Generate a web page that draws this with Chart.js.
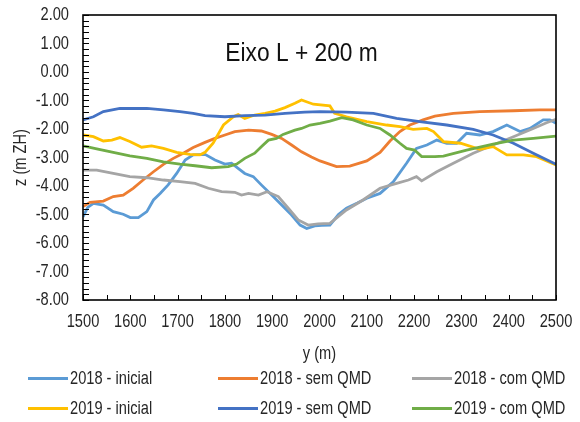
<!DOCTYPE html>
<html>
<head>
<meta charset="utf-8">
<script src="https://cdn.jsdelivr.net/npm/chart.js@4.4.1/dist/chart.umd.min.js"></script>
<style>
  html, body { margin: 0; padding: 0; background: #fff; }
  #wrap { position: relative; width: 580px; height: 422px; overflow: hidden; }
  #chart { position: absolute; left: 0; top: 0; }
  #legend { position: absolute; left: 0; top: 0; width: 580px; height: 422px; pointer-events: none;
            font-family: "Liberation Sans", Arial, sans-serif; font-size: 19px; color: #262626; }
  .item { position: absolute; display: flex; align-items: center; white-space: nowrap; height: 24px; line-height: 24px; }
  .swatch { display: inline-block; flex: none; width: 40px; height: 3px; margin-right: 2px; }
  .name { display: inline-block; transform: scaleX(0.77); transform-origin: 0 50%; }
</style>
</head>
<body>
<div id="wrap">
  <canvas id="chart" width="580" height="422"></canvas>
  <div id="legend"></div>
</div>
<script>
// Seabed profile along "Eixo L + 200 m": chainage y (m) vs bed level z (m ZH)

const seriesNames = ["2018 - inicial", "2018 - sem QMD", "2018 - com QMD",
                     "2019 - inicial", "2019 - sem QMD", "2019 - com QMD"];
const seriesColors = ["#5B9BD5", "#ED7D31", "#A5A5A5", "#FFC000", "#4472C4", "#70AD47"];

const xTicks = [1500, 1600, 1700, 1800, 1900, 2000, 2100, 2200, 2300, 2400, 2500];
const zTicks = [-8, -7, -6, -5, -4, -3, -2, -1, 0, 1, 2];

// 2018 - inicial
const y2018Inicial = [1500, 1510, 1522, 1543, 1564, 1585, 1600, 1617, 1635, 1649, 1663, 1680, 1698, 1716, 1733, 1758,
  1779, 1800, 1814, 1828, 1842, 1860, 1877, 1899, 1920, 1941, 1959, 1973, 1990, 2005, 2022, 2040, 2057, 2080, 2100,
  2128, 2156, 2184, 2205, 2227, 2248, 2269, 2290, 2311, 2339, 2367, 2396, 2424, 2445, 2473, 2487, 2500];
const z2018Inicial = [-5.08, -4.75, -4.61, -4.67, -4.90, -4.99, -5.11, -5.11, -4.90, -4.49, -4.26, -3.96, -3.56, -3.09, -2.91, -2.89,
  -3.09, -3.23, -3.20, -3.38, -3.56, -3.67, -3.96, -4.32, -4.67, -5.02, -5.37, -5.49, -5.40, -5.38, -5.37, -5.00, -4.78, -4.60, -4.43,
  -4.26, -3.85, -3.20, -2.68, -2.56, -2.39, -2.50, -2.50, -2.15, -2.21, -2.09, -1.86, -2.09, -1.98, -1.68, -1.68, -1.80];

// 2018 - sem QMD
const y2018Sem = [1500, 1515, 1543, 1564, 1585, 1606, 1627, 1649, 1670, 1691, 1712, 1733, 1758, 1779, 1800, 1821, 1850,
  1877, 1899, 1920, 1941, 1962, 1983, 2001, 2036, 2064, 2100, 2128, 2149, 2170, 2191, 2219, 2244, 2283, 2339, 2410, 2466, 2500];
const z2018Sem = [-4.72, -4.57, -4.53, -4.37, -4.32, -4.08, -3.79, -3.50, -3.24, -3.03, -2.85, -2.65, -2.47, -2.33, -2.21, -2.09, -2.04,
  -2.07, -2.19, -2.33, -2.56, -2.80, -2.98, -3.12, -3.32, -3.30, -3.12, -2.82, -2.42, -2.09, -1.86, -1.68, -1.55, -1.45, -1.39, -1.36, -1.33, -1.33];

// 2018 - com QMD
const y2018Com = [1500, 1529, 1564, 1599, 1635, 1670, 1705, 1737, 1765, 1793, 1821, 1835, 1850, 1871, 1889, 1913, 1934,
  1955, 1976, 1997, 2022, 2057, 2092, 2128, 2163, 2188, 2205, 2216, 2248, 2283, 2325, 2367, 2410, 2452, 2480, 2500];
const z2018Com = [-3.44, -3.44, -3.56, -3.67, -3.71, -3.79, -3.85, -3.91, -4.08, -4.20, -4.22, -4.32, -4.26, -4.32, -4.20, -4.37, -4.78,
  -5.19, -5.37, -5.33, -5.31, -4.84, -4.49, -4.08, -3.91, -3.79, -3.67, -3.82, -3.50, -3.20, -2.85, -2.56, -2.27, -1.98, -1.78, -1.66];

// 2019 - inicial
const y2019Inicial = [1500, 1522, 1543, 1561, 1578, 1599, 1624, 1645, 1670, 1698, 1726, 1747, 1758, 1775, 1797, 1818, 1828,
  1842, 1863, 1885, 1906, 1927, 1948, 1962, 1987, 2022, 2032, 2057, 2100, 2142, 2170, 2198, 2227, 2241, 2262, 2298, 2339,
  2367, 2396, 2431, 2459, 2500];
const z2019Inicial = [-2.21, -2.27, -2.42, -2.39, -2.30, -2.44, -2.64, -2.59, -2.68, -2.82, -2.89, -2.91, -2.82, -2.50, -1.86, -1.57, -1.49,
  -1.63, -1.51, -1.45, -1.37, -1.25, -1.10, -0.98, -1.13, -1.19, -1.45, -1.57, -1.74, -1.86, -1.92, -2.01, -1.98, -2.09, -2.44, -2.50, -2.71,
  -2.62, -2.91, -2.91, -2.97, -3.26];

// 2019 - sem QMD
const y2019Sem = [1500, 1522, 1543, 1578, 1635, 1670, 1705, 1733, 1758, 1800, 1842, 1885, 1927, 1969, 2001, 2057, 2114,
  2163, 2212, 2269, 2325, 2367, 2410, 2452, 2500];
const z2019Sem = [-1.68, -1.57, -1.39, -1.28, -1.28, -1.33, -1.39, -1.45, -1.53, -1.57, -1.53, -1.51, -1.45, -1.41, -1.39, -1.41, -1.45,
  -1.63, -1.74, -1.86, -2.01, -2.21, -2.50, -2.85, -3.24];

// 2019 - com QMD
const y2019Com = [1500, 1529, 1564, 1599, 1635, 1670, 1705, 1737, 1772, 1807, 1825, 1842, 1863, 1877, 1892, 1909, 1923,
  1948, 1962, 1980, 2001, 2022, 2047, 2071, 2100, 2128, 2149, 2170, 2184, 2201, 2216, 2244, 2262, 2311, 2367, 2410, 2452, 2500];
const z2019Com = [-2.59, -2.70, -2.82, -2.94, -3.03, -3.15, -3.23, -3.29, -3.36, -3.32, -3.23, -3.03, -2.85, -2.62, -2.39, -2.33, -2.19,
  -2.04, -1.98, -1.86, -1.80, -1.72, -1.60, -1.68, -1.86, -1.98, -2.21, -2.50, -2.68, -2.74, -2.97, -2.97, -2.95, -2.74, -2.53, -2.39, -2.33, -2.25];

const seriesY = [y2018Inicial, y2018Sem, y2018Com, y2019Inicial, y2019Sem, y2019Com];
const seriesZ = [z2018Inicial, z2018Sem, z2018Com, z2019Inicial, z2019Sem, z2019Com];

const FONT = '"Liberation Sans", Arial, sans-serif';
const TEXT = '#262626';
const NARROW = 0.77;   // horizontal squeeze for the condensed axis lettering

const datasets = seriesNames.map((name, i) => ({
  label: name,
  data: seriesY[i].map((y, k) => ({ x: y, y: seriesZ[i][k] })),
  borderColor: seriesColors[i],
  backgroundColor: seriesColors[i],
  borderWidth: 2.8,
  pointRadius: 0,
  tension: 0,
  fill: false,
  order: seriesNames.length - i   // later series sit on top
}));

function narrowText(ctx, text, x, y, align, squeeze, rotation) {
  ctx.save();
  ctx.translate(x, y);
  if (rotation) ctx.rotate(rotation);
  ctx.scale(squeeze, 1);
  ctx.textAlign = align;
  ctx.textBaseline = 'middle';
  ctx.fillText(text, 0, 0);
  ctx.restore();
}

// Box around the plot, inward tick marks, axis lettering and the in-plot caption
const frame = {
  id: 'frame',
  afterDatasetsDraw(chart) {
    const { ctx, chartArea: a, scales: { x, y } } = chart;
    ctx.save();
    ctx.strokeStyle = '#000';
    ctx.lineWidth = 1;
    ctx.beginPath();
    for (let v = x.min; v <= x.max; v += 50) {
      const px = Math.round(x.getPixelForValue(v)) + 0.5;
      ctx.moveTo(px, a.bottom);
      ctx.lineTo(px, a.bottom - 5);
    }
    for (let v = y.min; v <= y.max + 1e-9; v += 0.2) {
      const py = Math.round(y.getPixelForValue(v)) + 0.5;
      ctx.moveTo(a.left, py);
      ctx.lineTo(a.left + 6, py);
    }
    ctx.stroke();
    ctx.lineWidth = 1.6;
    ctx.strokeRect(a.left, a.top, a.right - a.left, a.bottom - a.top);

    ctx.fillStyle = TEXT;
    ctx.font = '19px ' + FONT;
    x.ticks.forEach(t => narrowText(ctx, String(t.value), x.getPixelForValue(t.value), a.bottom + 22, 'center', NARROW));
    y.ticks.forEach(t => narrowText(ctx, t.value.toFixed(2), a.left - 14, y.getPixelForValue(t.value), 'right', NARROW));

    ctx.font = '19px ' + FONT;
    narrowText(ctx, 'y (m)', (a.left + a.right) / 2, a.bottom + 54, 'center', NARROW);
    narrowText(ctx, 'z (m ZH)', 21, (a.top + a.bottom) / 2, 'center', NARROW, -Math.PI / 2);

    ctx.fillStyle = '#111';
    ctx.font = '25px ' + FONT;
    narrowText(ctx, 'Eixo L + 200 m', a.left + 0.462 * (a.right - a.left), a.top + 39, 'center', 0.91);
    ctx.restore();
  }
};

new Chart(document.getElementById('chart'), {
  type: 'line',
  data: { datasets },
  options: {
    responsive: false,
    animation: false,
    layout: { padding: { top: 15, right: 24, bottom: 52, left: 0 } },
    plugins: { legend: { display: false }, tooltip: { enabled: false } },
    scales: {
      x: {
        type: 'linear',
        min: xTicks[0],
        max: xTicks[xTicks.length - 1],
        afterBuildTicks: s => { s.ticks = xTicks.map(v => ({ value: v })); },
        afterFit: s => { s.height = 70; },
        ticks: { display: false },
        grid: { display: false, drawTicks: false },
        border: { display: false }
      },
      y: {
        type: 'linear',
        min: zTicks[0],
        max: zTicks[zTicks.length - 1],
        afterBuildTicks: s => { s.ticks = zTicks.map(v => ({ value: v })); },
        afterFit: s => { s.width = 83; },
        ticks: { display: false },
        grid: { display: false, drawTicks: false },
        border: { display: false }
      }
    }
  },
  plugins: [frame]
});

// Legend: three columns, two rows
const legend = document.getElementById('legend');
const colX = [28, 218, 412];
const rowY = [378, 408];
seriesNames.forEach((name, i) => {
  const item = document.createElement('div');
  item.className = 'item';
  item.style.left = colX[i % 3] + 'px';
  item.style.top = (rowY[Math.floor(i / 3)] - 12) + 'px';
  const sw = document.createElement('span');
  sw.className = 'swatch';
  sw.style.background = seriesColors[i];
  const label = document.createElement('span');
  label.className = 'name';
  label.textContent = name;
  item.appendChild(sw);
  item.appendChild(label);
  legend.appendChild(item);
});
</script>
</body>
</html>
